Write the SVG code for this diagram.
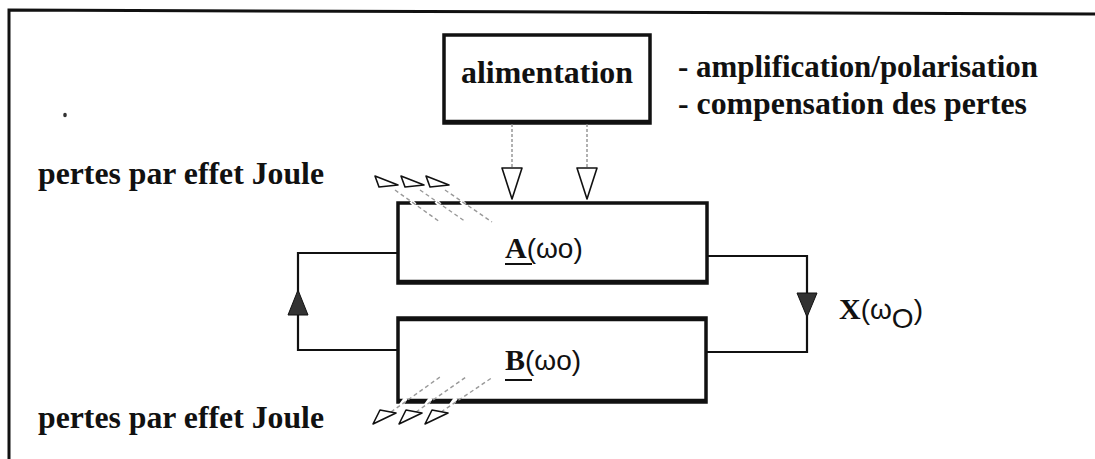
<svg xmlns="http://www.w3.org/2000/svg" width="1095" height="459" viewBox="0 0 1095 459">
<style>
.box{fill:#fff;stroke:#111;stroke-width:3.5}
.sh{stroke:#111;stroke-width:2.5;fill:none}
.ln{stroke:#111;stroke-width:2.2;fill:none}
.dot{stroke:#888;stroke-width:1.3;stroke-dasharray:3 2;fill:none}
.loss{stroke:#999;stroke-width:1.4;stroke-dasharray:4 3;fill:none}
.gap{stroke:#fff;stroke-width:4;fill:none}
.open{fill:#fff;stroke:#111;stroke-width:1.6;stroke-linejoin:round}
.fill{fill:#333;stroke:#111;stroke-width:1}
.tb{font-family:'Liberation Serif',serif;font-weight:bold;font-size:32px;fill:#111}
.lb{font-family:'Liberation Serif',serif;font-weight:bold;font-size:30px;fill:#111}
.ts{font-family:'Liberation Sans',sans-serif;font-size:28px;fill:#111}
</style>
<rect width="1095" height="459" fill="#fff"/>
<path d="M9,459 L9,10 L1095,14" fill="none" stroke="#111" stroke-width="3"/>
<ellipse cx="65" cy="115" rx="1.8" ry="2.2" fill="#333"/>

<g id="alimentation">
<rect class="box" x="444" y="35" width="206" height="88"/>
<line class="sh" x1="444" y1="121" x2="650" y2="121"/>
<text class="tb" x="461" y="83" textLength="172" lengthAdjust="spacingAndGlyphs">alimentation</text>
</g>

<g id="notes">
<text class="tb" x="678" y="77" textLength="360" lengthAdjust="spacingAndGlyphs">- amplification/polarisation</text>
<text class="tb" x="678" y="114" textLength="349" lengthAdjust="spacingAndGlyphs">- compensation des pertes</text>
</g>

<g id="blockA">
<rect class="box" x="398" y="203" width="309" height="80"/>
<line class="sh" x1="398" y1="281" x2="707" y2="281"/>
<text x="505" y="258"><tspan class="lb">A</tspan><tspan class="ts">(ωo)</tspan></text>
<line x1="505" y1="264" x2="532" y2="264" stroke="#111" stroke-width="2"/>
</g>

<g id="blockB">
<rect class="box" x="398" y="318" width="308" height="84"/>
<line class="sh" x1="398" y1="320" x2="706" y2="320"/>
<line class="sh" x1="398" y1="400" x2="706" y2="400"/>
<text x="505" y="370"><tspan class="lb">B</tspan><tspan class="ts">(ωo)</tspan></text>
<line x1="505" y1="380" x2="532" y2="380" stroke="#111" stroke-width="2"/>
</g>

<g id="connectors">
<polyline class="ln" points="398,253 298,253 298,350 398,350"/>
<polyline class="ln" points="707,256 807,256 807,352 706,352"/>
<polygon class="fill" points="298,290 288,315 308,315"/>
<polygon class="fill" points="797,293 817,293 807,317"/>
<line class="dot" x1="512" y1="124" x2="512" y2="168"/>
<line class="dot" x1="587" y1="124" x2="587" y2="168"/>
<polygon class="open" points="502,168 522,168 512,199"/>
<polygon class="open" points="577,168 597,168 587,199"/>
</g>

<g id="joule-top">
<text class="tb" x="38" y="184" textLength="286" lengthAdjust="spacingAndGlyphs">pertes par effet Joule</text>
<line class="gap" x1="411" y1="201" x2="415" y2="205"/>
<line class="gap" x1="436" y1="201" x2="440" y2="205"/>
<line class="gap" x1="461" y1="201" x2="465" y2="205"/>
<line class="loss" x1="395" y1="190" x2="440" y2="222"/>
<line class="loss" x1="420" y1="190" x2="466" y2="222"/>
<line class="loss" x1="445" y1="190" x2="492" y2="222"/>
<polygon class="open" points="375,176 379,187 398,185"/>
<polygon class="open" points="401,176 405,187 424,185"/>
<polygon class="open" points="426,176 430,187 449,185"/>
</g>

<g id="joule-bottom">
<text class="tb" x="38" y="428" textLength="286" lengthAdjust="spacingAndGlyphs">pertes par effet Joule</text>
<line class="gap" x1="401" y1="405" x2="406" y2="398"/>
<line class="gap" x1="426" y1="405" x2="431" y2="398"/>
<line class="gap" x1="451" y1="405" x2="456" y2="398"/>
<line class="loss" x1="391" y1="412" x2="440" y2="377"/>
<line class="loss" x1="416" y1="412" x2="466" y2="377"/>
<line class="loss" x1="441" y1="412" x2="493" y2="377"/>
<polygon class="open" points="373,424 380,410 396,413"/>
<polygon class="open" points="399,424 406,410 422,413"/>
<polygon class="open" points="425,424 432,410 448,413"/>
</g>

<g id="label-x">
<text x="839" y="319"><tspan class="lb">X</tspan><tspan class="ts">(ω</tspan><tspan class="ts" font-size="21" dy="9">O</tspan><tspan class="ts" dy="-9">)</tspan></text>
</g>
</svg>
